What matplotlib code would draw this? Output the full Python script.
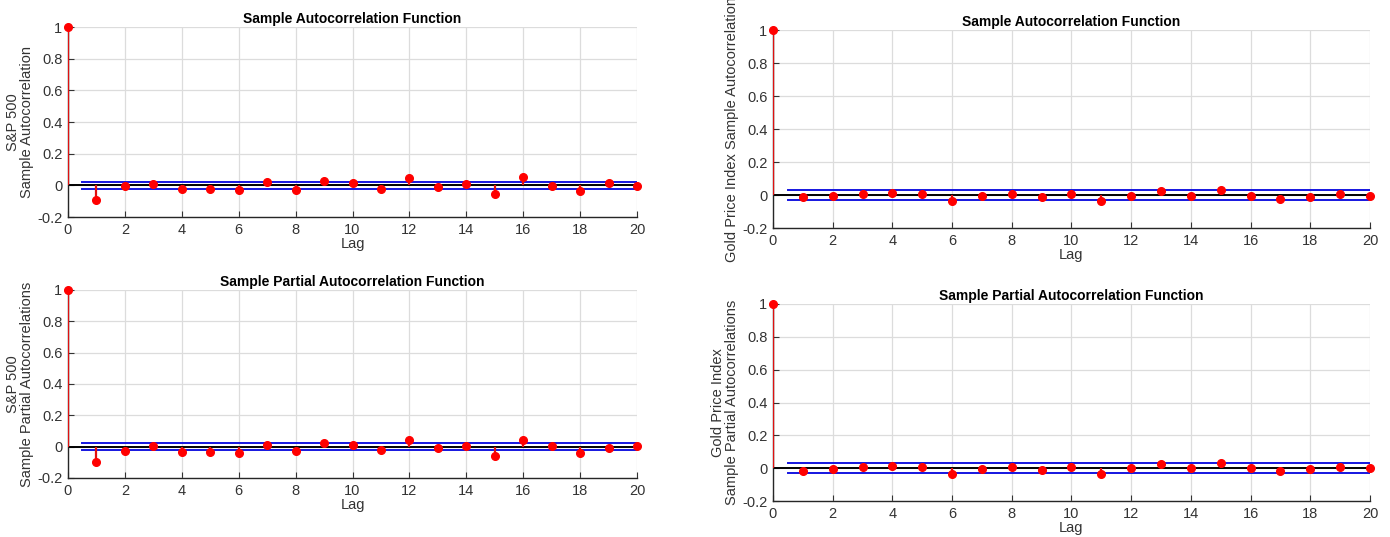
import matplotlib.pyplot as plt
import matplotlib.ticker as mticker
import numpy as np

plt.rcParams['font.family'] = ['Liberation Sans', 'DejaVu Sans']

lags = np.arange(0, 21)

# Sample ACF / PACF values for each series
sp_acf = [1, -0.093, -0.004, 0.006, -0.021, -0.021, -0.028, 0.021, -0.028, 0.030,
          0.017, -0.021, 0.047, -0.013, 0.006, -0.053, 0.055, -0.004, -0.038, 0.015, -0.002]
sp_pacf = [1, -0.100, -0.025, 0.002, -0.032, -0.032, -0.042, 0.013, -0.025, 0.021,
           0.013, -0.023, 0.045, -0.006, 0.002, -0.057, 0.045, 0.002, -0.040, -0.006, 0.002]
gold_acf = [1, -0.014, -0.006, 0.004, 0.012, 0.004, -0.038, -0.006, 0.004, -0.014,
            0.004, -0.038, -0.004, 0.022, -0.004, 0.028, -0.004, -0.022, -0.012, 0.004, -0.004]
gold_pacf = [1, -0.018, -0.002, 0.006, 0.016, 0.006, -0.037, -0.002, 0.006, -0.010,
             0.008, -0.035, 0.0, 0.024, 0.0, 0.032, 0.0, -0.018, -0.008, 0.008, 0.0]

# approximate confidence bounds
sp_bound = 0.023
gold_bound = 0.032

fig = plt.figure(figsize=(13.9, 5.37), dpi=100)

panels = [
    ([0.0489, 0.5959, 0.4094, 0.3538], sp_acf, sp_bound,
     'Sample Autocorrelation Function', 'S&P 500\nSample Autocorrelation'),
    ([0.0489, 0.1099, 0.4094, 0.3501], sp_pacf, sp_bound,
     'Sample Partial Autocorrelation Function', 'S&P 500\nSample Partial Autocorrelations'),
    ([0.5561, 0.5754, 0.4295, 0.3687], gold_acf, gold_bound,
     'Sample Autocorrelation Function', 'Gold Price Index Sample Autocorrelation'),
    ([0.5561, 0.0670, 0.4295, 0.3669], gold_pacf, gold_bound,
     'Sample Partial Autocorrelation Function', 'Gold Price Index\nSample Partial Autocorrelations'),
]

for rect, vals, bound, title, ylab in panels:
    ax = fig.add_axes(rect)
    ax.set_xlim(0, 20)
    ax.set_ylim(-0.2, 1)
    ax.set_xticks(np.arange(0, 21, 2))
    ax.set_yticks(np.arange(-0.2, 1.01, 0.2))
    ax.yaxis.set_major_formatter(mticker.FuncFormatter(lambda v, p: '%g' % round(v, 1)))
    ax.grid(True, color='#dcdcdc', linewidth=0.9)
    ax.set_axisbelow(True)

    # stems and markers
    ax.vlines(lags, 0, vals, color='#e01010', linewidth=1.6, zorder=3)
    ax.plot(lags, vals, 'o', color='red', markersize=5.5, zorder=4, clip_on=False)
    ax.axhline(0, color='black', linewidth=1.4, zorder=2)
    ax.plot([0.5, 20], [bound, bound], color='#1515e0', linewidth=1.4, zorder=2)
    ax.plot([0.5, 20], [-bound, -bound], color='#1515e0', linewidth=1.4, zorder=2)

    for s in ['top', 'right']:
        ax.spines[s].set_visible(False)
    for s in ['left', 'bottom']:
        ax.spines[s].set_color('#262626')
        ax.spines[s].set_linewidth(1.0)
    ax.tick_params(direction='in', length=4, labelsize=10.5, colors='#333333')
    ax.tick_params(axis='x', pad=4)
    ax.tick_params(axis='y', pad=4)

    ax.set_title(title, fontsize=10, fontweight='bold', pad=3)
    ax.set_xlabel('Lag', fontsize=10.5, color='#333333', labelpad=0)
    ax.set_ylabel(ylab, fontsize=10.5, color='#333333', labelpad=2, linespacing=1.0)

fig.savefig('out.png', dpi=100)
